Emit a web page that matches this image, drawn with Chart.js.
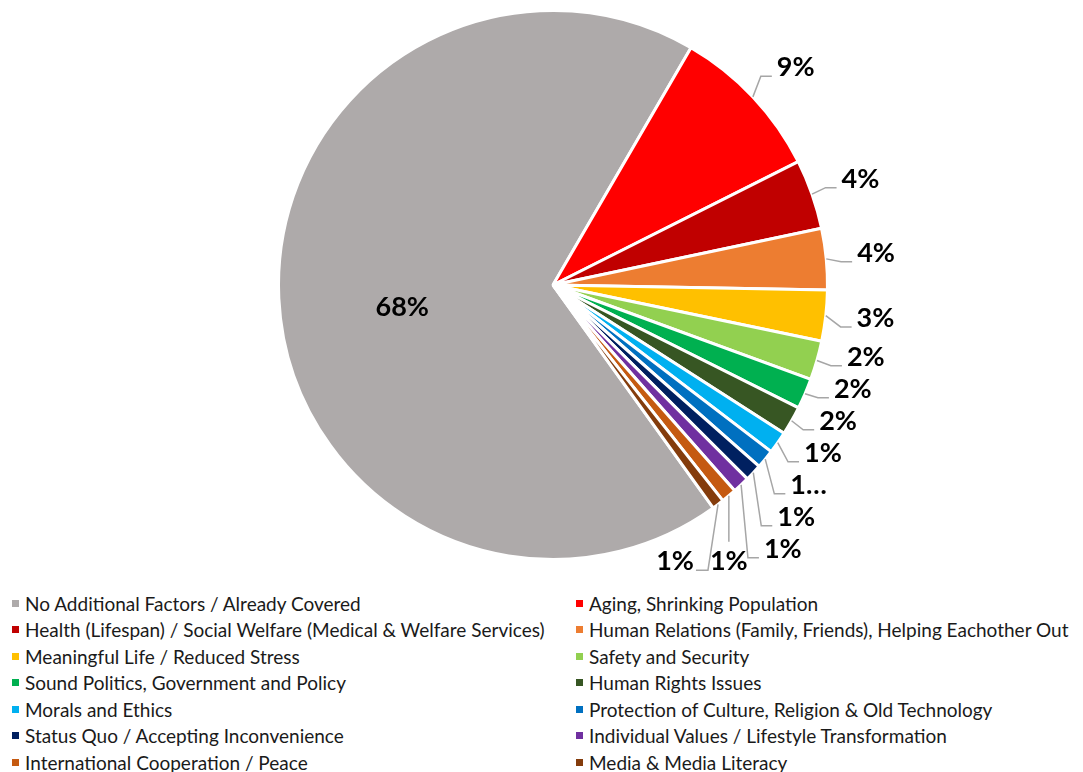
<!DOCTYPE html>
<html>
<head>
<meta charset="utf-8">
<script src="https://cdn.jsdelivr.net/npm/chart.js@4.4.0/dist/chart.umd.min.js"></script>
<style>
    html, body { margin: 0; padding: 0; background: #fff; }
    body { width: 1083px; height: 772px; position: relative; overflow: hidden; font-family: Lato, 'Noto Sans', sans-serif; }
    #pieWrap { position: absolute; left: 0; top: 0; width: 1083px; height: 590px; }
    #legend { position: absolute; left: 12px; top: 590px; display: grid; grid-template-columns: 564px 507px; grid-auto-rows: 26.5px; font-size: 19px; color: #1a1a1a; }
    .legend-item { display: flex; align-items: center; white-space: nowrap; }
    .swatch { width: 7px; height: 7px; margin-right: 6px; flex: none; }
</style>
</head>
<body>
<div id="pieWrap"><canvas id="pieChart" width="1083" height="590"></canvas></div>
<div id="legend"></div>
<script>
// Chart data
const categories = [
    'No Additional Factors / Already Covered',
    'Aging, Shrinking Population',
    'Health (Lifespan) / Social Welfare (Medical & Welfare Services)',
    'Human Relations (Family, Friends), Helping Eachother Out',
    'Meaningful Life / Reduced Stress',
    'Safety and Security',
    'Sound Politics, Government and Policy',
    'Human Rights Issues',
    'Morals and Ethics',
    'Protection of Culture, Religion & Old Technology',
    'Status Quo / Accepting Inconvenience',
    'Individual Values / Lifestyle Transformation',
    'International Cooperation / Peace',
    'Media & Media Literacy'
];
const shares = [68.3, 9.2, 4.1, 3.6, 3.0, 2.3, 1.8, 1.7, 1.3, 1.1, 1.0, 1.0, 0.9, 0.7];
const valueLabels = ['68%', '9%', '4%', '4%', '3%', '2%', '2%', '2%', '1%', '1…', '1%', '1%', '1%', '1%'];
const sliceColors = [
    '#AEAAAA', '#FF0000', '#C00000', '#ED7D31', '#FFC000', '#92D050', '#00B050',
    '#375623', '#00B0F0', '#0070C0', '#002060', '#7030A0', '#C55A11', '#843C0C'
];

// Data labels with leader lines, roughly like Excel's "best fit"
const pieLabelPlugin = {
    id: 'pieLabels',
    afterDatasetsDraw(chart) {
        const ctx = chart.ctx;
        const arcs = chart.getDatasetMeta(0).data;
        const fontSize = 27;
        const capH = fontSize * 0.72;
        const boxH = 32;
        const maxShift = 40;

        ctx.save();
        ctx.font = 'bold ' + fontSize + 'px Lato, "Noto Sans", sans-serif';
        ctx.fillStyle = '#000';
        ctx.strokeStyle = '#A6A6A6';
        ctx.lineWidth = 1.5;

        const items = arcs.map((arc, i) => {
            const mid = (arc.startAngle + arc.endAngle) / 2;
            const R = arc.outerRadius;
            return {
                i, arc, R,
                cos: Math.cos(mid), sin: Math.sin(mid),
                text: valueLabels[i],
                w: ctx.measureText(valueLabels[i]).width,
                px: arc.x + R * Math.cos(mid),
                py: arc.y + R * Math.sin(mid)
            };
        });

        // big slice: label inside
        const inside = items.filter(it => shares[it.i] > 25);
        inside.forEach(it => {
            const r = it.R * 0.55;
            ctx.textAlign = 'center';
            ctx.textBaseline = 'alphabetic';
            ctx.fillText(it.text, it.arc.x + r * it.cos, it.arc.y + r * it.sin + 14 + capH / 2);
        });

        const outer = items.filter(it => shares[it.i] <= 25);
        outer.forEach(it => {
            const ax = it.arc.x + (it.R + 26) * it.cos;
            const ay = it.arc.y + (it.R + 26) * it.sin;
            it.left = ax + 5;
            it.ny = ay + 14 * it.sin - 3;
        });

        const relax = (list) => {
            list.forEach(l => { l.y = l.ny; });
            for (let k = 0; k < 600; k++) {
                for (let j = 1; j < list.length; j++) {
                    const over = list[j - 1].y + boxH - list[j].y;
                    if (over > 0) {
                        list[j - 1].y -= over / 2;
                        list[j].y += over / 2;
                    }
                }
            }
        };

        let right = outer.slice();
        const below = [];
        while (right.length) {
            relax(right);
            const last = right[right.length - 1];
            if (last.y - last.ny > maxShift) {
                below.unshift(right.pop());
            } else {
                break;
            }
        }

        ctx.textAlign = 'left';
        ctx.textBaseline = 'alphabetic';

        right.forEach(l => {
            const base = l.y + capH / 2;
            ctx.beginPath();
            ctx.moveTo(l.px, l.py);
            ctx.lineTo(l.left - 16, base);
            ctx.lineTo(l.left - 5, base);
            ctx.stroke();
            ctx.fillText(l.text, l.left, base);
        });

        let prevLeft = Infinity;
        below.forEach(l => {
            let cx = l.px;
            if (cx + l.w / 2 > prevLeft - 16) cx = prevLeft - 16 - l.w / 2;
            l.left = cx - l.w / 2;
            l.y = l.arc.y + l.R + 1;
            const base = l.y + capH / 2;
            ctx.beginPath();
            ctx.moveTo(l.px, l.py);
            if (cx === l.px) {
                ctx.lineTo(l.px, l.y - capH / 2 - 9);
            } else {
                ctx.lineTo(l.left + l.w + 14, base);
                ctx.lineTo(l.left + l.w + 2, base);
            }
            ctx.stroke();
            ctx.fillText(l.text, l.left, base);
            prevLeft = l.left;
        });

        ctx.restore();
    }
};

const pieChart = new Chart(document.getElementById('pieChart'), {
    type: 'pie',
    data: {
        labels: categories,
        datasets: [{
            data: shares,
            backgroundColor: sliceColors,
            borderColor: '#ffffff',
            borderWidth: 3,
            hoverOffset: 0,
            offset: 0
        }]
    },
    options: {
        responsive: false,
        animation: false,
        events: [],
        rotation: 144.3,
        layout: {
            padding: { top: 9, left: 277, right: 254, bottom: 29 }
        },
        plugins: {
            legend: { display: false },
            tooltip: { enabled: false }
        }
    },
    plugins: [pieLabelPlugin]
});

// HTML legend in two columns
const legendEl = document.getElementById('legend');
legendEl.innerHTML = categories.map((name, i) => `
    <div class="legend-item"><span class="swatch" style="background:${sliceColors[i]}"></span>${name.replace(/&/g, '&amp;')}</div>
`).join('');
</script>
</body>
</html>
